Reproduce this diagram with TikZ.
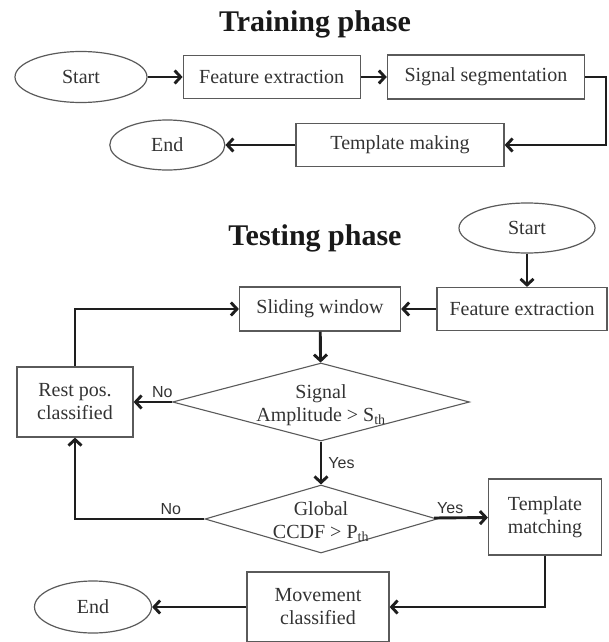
\documentclass[tikz,border=0pt]{standalone}
\usepackage{fontspec}
\setmainfont{Liberation Serif}
\newfontfamily\labelfont{Liberation Sans}
\usetikzlibrary{positioning, shapes.geometric, arrows.meta}
\definecolor{bordergray}{HTML}{5A5A5A}
\definecolor{textgray}{HTML}{333333}
\definecolor{wiregray}{HTML}{1E1E1E}

\begin{document}
\begin{tikzpicture}[
        x=1pt, y=-1pt,
        node distance=26pt,
        box/.style={
            rectangle, draw=bordergray, line width=1.2pt,
            text=textgray, align=center, inner sep=2pt,
            font=\fontsize{20}{23}\selectfont
        },
        term/.style={
            ellipse, draw=bordergray, line width=1.2pt,
            text=textgray, inner sep=0pt,
            font=\fontsize{20}{23}\selectfont
        },
        decision/.style={
            diamond, draw=bordergray, line width=1.1pt, inner sep=0pt
        },
        dtext/.style={text=textgray, align=center, font=\fontsize{20}{23}\selectfont},
        phase/.style={font=\fontsize{30}{36}\selectfont\bfseries, text=black!90},
        line/.style={draw=wiregray, line width=2.9pt, -{Straight Barb[length=6pt, width=13pt]}},
        lbl/.style={font=\labelfont\fontsize{16}{18}\selectfont, text=textgray, inner sep=3pt}
    ]

    \useasboundingbox (0,0) rectangle (608,642);

    \node [phase] (trtitle) at (315,24) {Training phase};

    \node [term, minimum width=132pt, minimum height=51pt] (trstart) at (81,77) {Start};
    \node [box, minimum width=177pt, minimum height=43pt, right=35pt of trstart] (trfeat) {Feature extraction};
    \node [box, minimum width=197pt, minimum height=44pt, right=26pt of trfeat] (trseg) {Signal segmentation};
    \node [box, minimum width=208pt, minimum height=43pt] (trtempl) at (400,145) {Template making};
    \node [term, minimum width=115pt, minimum height=50pt, left=70pt of trtempl] (trend) {End};

    \draw [line] (trstart) -- (trfeat);
    \draw [line] (trfeat) -- (trseg);
    \draw [line] (trseg.east) -- ++(21,0) |- (trtempl.east);
    \draw [line] (trtempl) -- (trend);

    \node [phase] (tstitle) at (315,238) {Testing phase};

    \node [term, minimum width=136pt, minimum height=50pt] (tsstart) at (527,228) {Start};
    \node [box, minimum width=170pt, minimum height=43pt] (tsfeat) at (522,309) {Feature extraction};
    \node [box, minimum width=161pt, minimum height=44pt] (tsslide) at (320,309) {Sliding window};
    \node [box, minimum width=116pt, minimum height=70pt] (rest) at (75,402) {Rest pos.\\classified};

    \node [decision, minimum width=297pt, minimum height=78pt] (sig) at (321,402) {};
    \node [dtext, yshift=-3pt] (sigtext) at (sig) {Signal\\Amplitude > S\textsubscript{th}};
    \node [decision, minimum width=232pt, minimum height=68pt] (glob) at (321,519) {};
    \node [dtext, yshift=-3pt] (globtext) at (glob) {Global\\CCDF > P\textsubscript{th}};

    \node [box, minimum width=113pt, minimum height=76pt] (tmatch) at (545,517) {Template\\matching};
    \node [box, minimum width=142pt, minimum height=70pt] (move) at (318,607) {Movement\\classified};
    \node [term, minimum width=117pt, minimum height=52pt] (tsend) at (93,607) {End};

    \draw [line] (tsstart.south) -- (tsstart.south |- tsfeat.north);
    \draw [line] (tsfeat) -- (tsslide);
    \draw [line] (tsslide) -- (sig);
    \draw [line] (sig) -- node[lbl, above, pos=0.25] {No} (rest);
    \draw [line] (sig) -- node[lbl, right, xshift=3pt] {Yes} (glob);
    \draw [line] (glob.west) -| node[lbl, above, pos=0.13] {No} (rest.south);
    \draw [line] (glob) -- node[lbl, above, pos=0.3] {Yes} (tmatch);
    \draw [line] (rest.north) |- (tsslide.west);
    \draw [line] (tmatch.south) |- (move.east);
    \draw [line] (move) -- (tsend);

    \end{tikzpicture}
\end{document}
